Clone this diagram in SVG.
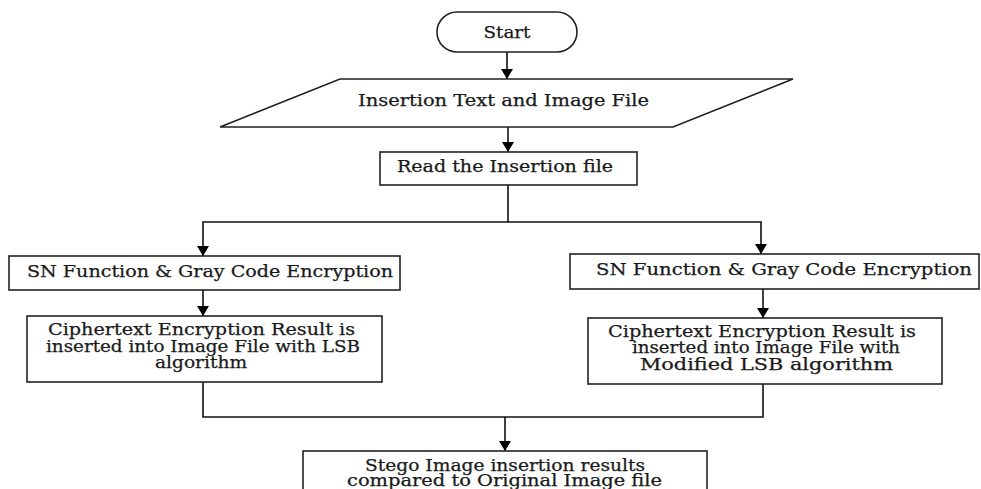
<svg xmlns="http://www.w3.org/2000/svg" width="981" height="489" viewBox="0 0 981 489">
<style>
.box{fill:#fff;stroke:#222;stroke-width:1.6}
.t{font-family:"DejaVu Serif","Liberation Serif",serif;font-size:16px;fill:#1a1a1a;text-anchor:middle;stroke:#1a1a1a;stroke-width:0.25}
.c{fill:none;stroke:#111;stroke-width:1.6}
</style>
<defs>
<marker id="ah" viewBox="0 0 10 12" refX="10" refY="6" markerWidth="10" markerHeight="12" markerUnits="userSpaceOnUse" orient="auto">
<path d="M0,0 L10,6 L0,12 z" fill="#000"/>
</marker>
</defs>
<rect width="981" height="489" fill="#fff"/>
<g id="connectors">
<line class="c" x1="507" y1="52" x2="507" y2="79" marker-end="url(#ah)"/>
<line class="c" x1="508" y1="127" x2="508" y2="152" marker-end="url(#ah)"/>
<polyline class="c" points="508,185 508,222 203,222 203,256" marker-end="url(#ah)"/>
<polyline class="c" points="508,222 761,222 761,254" marker-end="url(#ah)"/>
<line class="c" x1="203" y1="290" x2="203" y2="316" marker-end="url(#ah)"/>
<line class="c" x1="763" y1="289" x2="763" y2="318" marker-end="url(#ah)"/>
<polyline class="c" points="203,382 203,417 763,417 763,384"/>
<line class="c" x1="505" y1="417" x2="505" y2="451" marker-end="url(#ah)"/>
</g>
<g id="start">
<rect class="box" x="437" y="12" width="140" height="40" rx="20" ry="20"/>
<text class="t" x="507" y="38" textLength="47" lengthAdjust="spacingAndGlyphs">Start</text>
</g>
<g id="input">
<polygon class="box" points="340,79 793,79 673,127 220,127"/>
<text class="t" x="503.5" y="106" textLength="291" lengthAdjust="spacingAndGlyphs">Insertion Text and Image File</text>
</g>
<g id="read">
<rect class="box" x="380" y="152" width="257" height="33"/>
<text class="t" x="505" y="172" textLength="216" lengthAdjust="spacingAndGlyphs">Read the Insertion file</text>
</g>
<g id="sn-left">
<rect class="box" x="9" y="256" width="391" height="34"/>
<text class="t" x="210" y="277" textLength="366" lengthAdjust="spacingAndGlyphs">SN Function &amp; Gray Code Encryption</text>
</g>
<g id="sn-right">
<rect class="box" x="570" y="254" width="409" height="35"/>
<text class="t" x="784" y="275" textLength="376" lengthAdjust="spacingAndGlyphs">SN Function &amp; Gray Code Encryption</text>
</g>
<g id="lsb-left">
<rect class="box" x="27" y="316" width="355" height="66"/>
<text class="t" x="201.5" y="335" textLength="307" lengthAdjust="spacingAndGlyphs">Ciphertext Encryption Result is</text>
<text class="t" x="203" y="352" textLength="314" lengthAdjust="spacingAndGlyphs">inserted into Image File with LSB</text>
<text class="t" x="201" y="368" textLength="92" lengthAdjust="spacingAndGlyphs">algorithm</text>
</g>
<g id="lsb-right">
<rect class="box" x="588" y="318" width="354" height="66"/>
<text class="t" x="762" y="337" textLength="308" lengthAdjust="spacingAndGlyphs">Ciphertext Encryption Result is</text>
<text class="t" x="766" y="353" textLength="268" lengthAdjust="spacingAndGlyphs">inserted into Image File with</text>
<text class="t" x="766.5" y="370" textLength="253" lengthAdjust="spacingAndGlyphs">Modified LSB algorithm</text>
</g>
<g id="result">
<rect class="box" x="303" y="451" width="404" height="50"/>
<text class="t" x="505" y="471" textLength="280" lengthAdjust="spacingAndGlyphs">Stego Image insertion results</text>
<text class="t" x="504.5" y="486" textLength="315" lengthAdjust="spacingAndGlyphs">compared to Original Image file</text>
</g>
</svg>
